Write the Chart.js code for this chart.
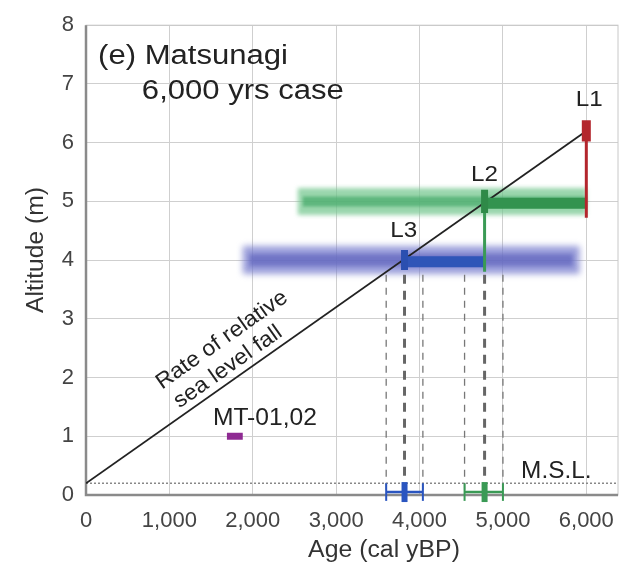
<!DOCTYPE html>
<html>
<head>
<meta charset="utf-8">
<script src="https://cdn.jsdelivr.net/npm/chart.js@4"></script>
<style>
  html, body { margin: 0; padding: 0; background: #fff; }
  #wrap { width: 644px; height: 567px; }
</style>
</head>
<body>
<div id="wrap"><canvas id="c" width="644" height="567"></canvas></div>
<script>
// ticks
const ageTicks = [0, 1000, 2000, 3000, 4000, 5000, 6000];
const altTicks = [0, 1, 2, 3, 4, 5, 6, 7, 8];

// rate of relative sea level fall line
const fallAge = [0, 6000];
const fallAlt = [0.2, 6.2];
const mslAlt = 0.2;

// terraces: L1, L2, L3
const levelNames = ['L1', 'L2', 'L3'];
const levelAge = [6000, 4780, 3820];
const levelAlt = [6.2, 5.0, 4.0];

// wide uncertainty bands (age range)
const greenBand = [2540, 6000];
const blueBand = [1880, 5920];

// dashed age ranges (min, center, max)
const blueRange = [3600, 3820, 4040];
const greenRange = [4540, 4780, 5000];

// MT-01,02 sample
const mtAge = [1690, 1880];
const mtAlt = 1.0;

const FONT = "'Liberation Sans', Arial, sans-serif";

function seg(x1, y1, x2, y2, color, width, extra) {
  return Object.assign({
    data: [{ x: x1, y: y1 }, { x: x2, y: y2 }],
    showLine: true,
    borderColor: color,
    backgroundColor: color,
    borderWidth: width,
    pointRadius: 0,
    borderCapStyle: 'butt',
    order: 5
  }, extra || {});
}

const datasets = [];
// bands (blurred)
datasets.push(seg(greenBand[0], levelAlt[1], greenBand[1], levelAlt[1], 'rgba(120,200,145,0.75)', 27, { order: 20, blur: 2 }));
datasets.push(seg(greenBand[0] + 60, levelAlt[1], greenBand[1], levelAlt[1], 'rgba(70,170,105,0.7)', 10, { order: 19, blur: 1.5 }));
datasets.push(seg(blueBand[0], levelAlt[2], blueBand[1], levelAlt[2], 'rgba(120,125,205,0.75)', 28, { order: 20, blur: 3 }));
datasets.push(seg(blueBand[0] + 80, levelAlt[2], blueBand[1] - 80, levelAlt[2], 'rgba(95,100,190,0.7)', 12, { order: 19, blur: 2 }));

// dashed verticals down from L3 / L2
[blueRange, greenRange].forEach(r => {
  r.forEach((a, i) => {
    const center = i === 1;
    datasets.push(seg(a, 3.75, a, 0.05, center ? '#666' : '#777', center ? 3 : 1.3,
      { borderDash: center ? [9, 7] : [7, 6], order: 15 }));
  });
});

// M.S.L. dotted line
datasets.push(seg(0, mslAlt, 6380, mslAlt, '#888', 1.5, { borderDash: [2, 2], order: 14 }));

// rate of fall line
datasets.push(seg(fallAge[0], fallAlt[0], fallAge[1], fallAlt[1], '#222', 1.8, { order: 8 }));

// L1 red
datasets.push(seg(levelAge[0], 4.72, levelAge[0], 6.2, '#b3262d', 3, { order: 3 }));
datasets.push(seg(levelAge[0], 6.02, levelAge[0], 6.38, '#b3262d', 9, { order: 2 }));

// L2 green
datasets.push(seg(levelAge[1], levelAlt[1] - 0.03, levelAge[0], levelAlt[1] - 0.03, '#33934f', 11, { order: 4 }));
datasets.push(seg(levelAge[1], levelAlt[1], levelAge[1], 3.8, '#3a9a55', 3, { order: 4 }));
datasets.push(seg(levelAge[1], levelAlt[1] + 0.2, levelAge[1], levelAlt[1] - 0.2, '#2f8a48', 7, { order: 2 }));

// L3 blue
datasets.push(seg(levelAge[2], levelAlt[2] - 0.03, levelAge[1], levelAlt[2] - 0.03, '#2f55b8', 11, { order: 4 }));
datasets.push(seg(levelAge[2], levelAlt[2] + 0.17, levelAge[2], levelAlt[2] - 0.17, '#2a4fb0', 7, { order: 2 }));

// bottom error bars
[[blueRange, '#2a55c0'], [greenRange, '#3a9a55']].forEach(([r, col]) => {
  datasets.push(seg(r[0], 0.05, r[2], 0.05, col, 2.5, { order: 3 }));
  datasets.push(seg(r[0], -0.1, r[0], 0.2, col, 2, { order: 3, clip: false }));
  datasets.push(seg(r[2], -0.1, r[2], 0.2, col, 2, { order: 3, clip: false }));
  datasets.push(seg(r[1], -0.12, r[1], 0.22, col, 6, { order: 2, clip: false }));
});

// MT-01,02
datasets.push(seg(mtAge[0], mtAlt, mtAge[1], mtAlt, '#8e2a92', 7, { order: 2 }));

const blurPlugin = {
  id: 'blur',
  beforeDatasetDraw(chart, args) {
    const ds = chart.data.datasets[args.index];
    chart.ctx.save();
    if (ds.blur) chart.ctx.filter = 'blur(' + ds.blur + 'px)';
  },
  afterDatasetDraw(chart) {
    chart.ctx.restore();
  }
};

// draw text at pixel position, slightly widened like the original artwork
function drawText(ctx, s, px, py, size, align, sx, rot) {
  ctx.save();
  ctx.font = size + 'px ' + FONT;
  ctx.textAlign = align || 'center';
  ctx.textBaseline = 'middle';
  ctx.translate(px, py);
  if (rot) ctx.rotate(rot);
  ctx.scale(sx || 1, 1);
  ctx.fillText(s, 0, 0);
  ctx.restore();
}

const framePlugin = {
  id: 'frame',
  beforeDatasetsDraw(chart) {
    const { ctx, chartArea: a } = chart;
    ctx.save();
    ctx.strokeStyle = '#c8c8c8';
    ctx.lineWidth = 1;
    ctx.strokeRect(a.left, a.top, a.right - a.left, a.bottom - a.top);
    ctx.strokeStyle = '#8a8a8a';
    ctx.lineWidth = 2.5;
    ctx.beginPath();
    ctx.moveTo(a.left, a.top);
    ctx.lineTo(a.left, a.bottom);
    ctx.lineTo(a.right, a.bottom);
    ctx.stroke();
    ctx.restore();
  },
  afterDraw(chart) {
    const { ctx, scales: { x, y } } = chart;
    const txt = (s, ax, ay, size, align, sx) =>
      drawText(ctx, s, x.getPixelForValue(ax), y.getPixelForValue(ay), size, align, sx);
    ctx.save();
    ctx.fillStyle = '#222';
    txt('(e) Matsunagi', 145, 7.46, 27, 'left', 1.15);
    txt('6,000 yrs case', 670, 6.87, 27, 'left', 1.15);
    txt(levelNames[0], 6036, 6.72, 22, 'center', 1.1);
    txt(levelNames[1], 4780, 5.45, 22, 'center', 1.1);
    txt(levelNames[2], 3810, 4.5, 22, 'center', 1.1);
    txt('MT-01,02', 2145, 1.30, 23, 'center', 1.07);
    txt('M.S.L.', 5640, 0.39, 23, 'center', 1.06);

    // rotated label along fall line
    const x0 = x.getPixelForValue(fallAge[0]), y0 = y.getPixelForValue(fallAlt[0]);
    const x1 = x.getPixelForValue(fallAge[1]), y1 = y.getPixelForValue(fallAlt[1]);
    const ang = Math.atan2(y1 - y0, x1 - x0);
    drawText(ctx, 'Rate of relative', 222, 340, 22, 'center', 1.05, ang);
    drawText(ctx, 'sea level fall', 228, 367, 22, 'center', 1.05, ang);

    // axis titles
    ctx.fillStyle = '#333';
    drawText(ctx, 'Age (cal yBP)', 384, 551, 23, 'center', 1.08);
    drawText(ctx, 'Altitude (m)', 37, 250, 23, 'center', 1.07, -Math.PI / 2);
    ctx.restore();
  }
};

new Chart(document.getElementById('c'), {
  type: 'scatter',
  data: { datasets },
  options: {
    responsive: false,
    animation: false,
    layout: { padding: { top: 21, right: 26, left: 0, bottom: 0 } },
    plugins: { legend: { display: false }, tooltip: { enabled: false } },
    scales: {
      x: {
        type: 'linear',
        min: 0,
        max: 6380,
        afterBuildTicks(s) { s.ticks = ageTicks.map(v => ({ value: v })); },
        afterFit(s) { s.height = 72; },
        grid: { color: '#cfcfcf', lineWidth: 1, drawTicks: false },
        border: { display: false },
        ticks: {
          padding: 13,
          color: '#444',
          font: { family: FONT, size: 22 },
          callback: v => v.toLocaleString('en-US')
        }
      },
      y: {
        type: 'linear',
        min: 0,
        max: 8,
        afterBuildTicks(s) { s.ticks = altTicks.map(v => ({ value: v })); },
        afterFit(s) { s.width = 86; },
        grid: { color: '#cfcfcf', lineWidth: 1, drawTicks: false },
        border: { display: false },
        ticks: { padding: 12, color: '#444', font: { family: FONT, size: 22 } }
      }
    }
  },
  plugins: [blurPlugin, framePlugin]
});
</script>
</body>
</html>
